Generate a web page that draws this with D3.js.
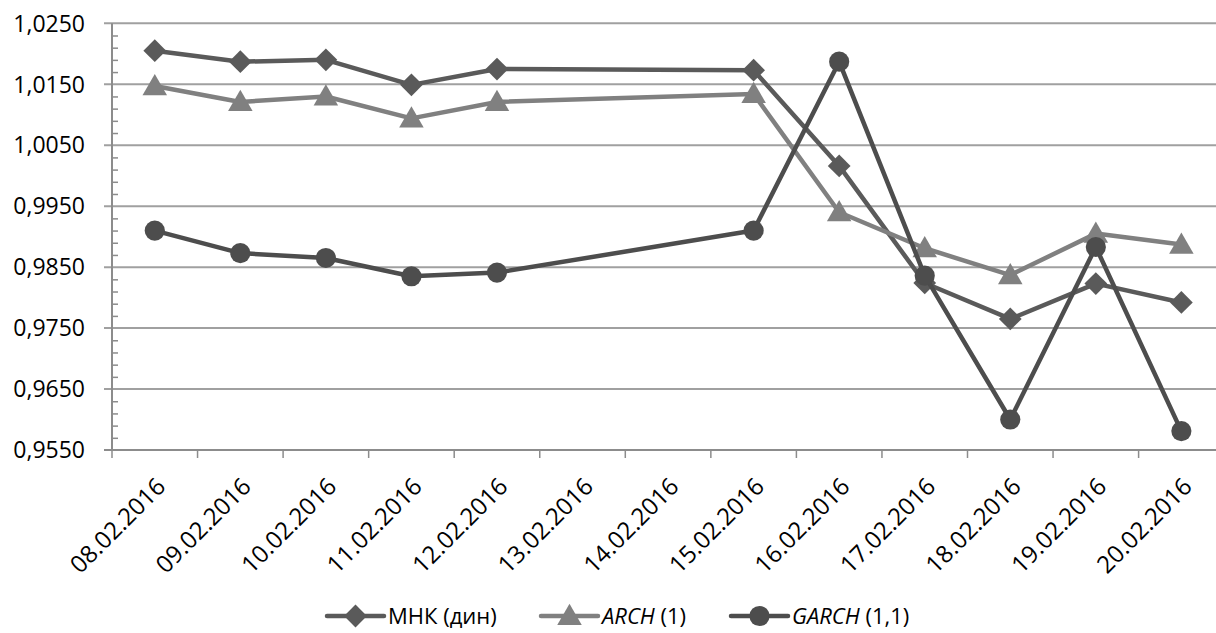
<!DOCTYPE html>
<html>
<head>
<meta charset="utf-8">
<script src="https://cdn.jsdelivr.net/npm/d3@7"></script>
<style>
  body { margin: 0; background: #fff; }
  svg { display: block; font-family: "Open Sans", sans-serif; }
  .ytick { font-size: 23px; fill: #000; }
  .xlab { font-size: 24px; fill: #000; }
  .legend text { font-size: 22px; fill: #000; }
</style>
</head>
<body>
<script>
//categories on the date axis
var dates = ["08.02.2016", "09.02.2016", "10.02.2016", "11.02.2016", "12.02.2016",
  "13.02.2016", "14.02.2016", "15.02.2016", "16.02.2016", "17.02.2016",
  "18.02.2016", "19.02.2016", "20.02.2016"];
//series values (null = no value that day)
var mnk   = [1.0205, 1.0187, 1.0190, 1.0149, 1.0175, null, null, 1.0173, 1.0016, 0.9824, 0.9765, 0.9823, 0.9792];
var arch  = [1.0147, 1.0121, 1.0130, 1.0094, 1.0121, null, null, 1.0134, 0.9940, 0.9881, 0.9837, 0.9905, 0.9887];
var garch = [0.9910, 0.9873, 0.9865, 0.9835, 0.9841, null, null, 0.9910, 1.0187, 0.9836, 0.9600, 0.9883, 0.9581];
//y axis tick labels
var yTicks = [0.9550, 0.9650, 0.9750, 0.9850, 0.9950, 1.0050, 1.0150, 1.0250];

window.onload = function() {
  var w = 1216, h = 633;
  var left = 112, top = 23.3, bottom = 450;
  var step = 85.55;

  var svg = d3.select("body").append("svg")
    .attr("width", w)
    .attr("height", h);

  //scales
  var x = d3.scaleBand()
    .domain(dates)
    .range([left, left + step * dates.length])
    .padding(0);
  var y = d3.scaleLinear()
    .domain([0.955, 1.025])
    .range([bottom, top]);

  var comma = d3.formatLocale({decimal: ",", thousands: " ", grouping: [3], currency: ["", ""]});
  var fmt = comma.format(".4f");

  //horizontal gridlines (they also work as major ticks)
  svg.append("g")
    .selectAll("line")
    .data(yTicks)
    .enter()
    .append("line")
    .attr("x1", left - 8)
    .attr("x2", w)
    .attr("y1", function(d) { return y(d); })
    .attr("y2", function(d) { return y(d); })
    .style("stroke", "#a0a0a0")
    .style("stroke-width", 2);

  //minor ticks inside the plot
  var minor = d3.range(0, 36).map(function(i) { return 0.955 + i * 0.002; })
    .filter(function(d, i) { return i % 5 != 0; });
  svg.append("g")
    .attr("transform", "translate(" + left + ",0)")
    .call(d3.axisRight(y).tickValues(minor).tickSize(6).tickFormat(""))
    .call(function(g) {
      g.select(".domain").remove();
      g.selectAll("line").style("stroke", "#8c8c8c").style("stroke-width", 1.5);
    });

  //y labels
  svg.append("g")
    .selectAll("text")
    .data(yTicks)
    .enter()
    .append("text")
    .attr("class", "ytick")
    .attr("x", 85)
    .attr("y", function(d) { return y(d); })
    .attr("dy", "0.36em")
    .attr("text-anchor", "end")
    .text(function(d) { return fmt(d); });

  //y axis line
  svg.append("line")
    .attr("x1", left).attr("x2", left)
    .attr("y1", y(1.025)).attr("y2", bottom)
    .style("stroke", "#8c8c8c")
    .style("stroke-width", 2);

  //x axis line and ticks at category boundaries
  svg.append("line")
    .attr("x1", left - 8).attr("x2", w)
    .attr("y1", bottom).attr("y2", bottom)
    .style("stroke", "#8c8c8c")
    .style("stroke-width", 2);
  svg.append("g")
    .selectAll("line")
    .data(dates)
    .enter()
    .append("line")
    .attr("x1", function(d) { return x(d); })
    .attr("x2", function(d) { return x(d); })
    .attr("y1", bottom)
    .attr("y2", bottom + 8)
    .style("stroke", "#8c8c8c")
    .style("stroke-width", 1.5);

  //rotated date labels
  svg.append("g")
    .selectAll("text")
    .data(dates)
    .enter()
    .append("text")
    .attr("class", "xlab")
    .attr("text-anchor", "end")
    .attr("dy", "0.36em")
    .attr("transform", function(d) {
      return "translate(" + (x(d) + x.bandwidth() / 2 + 6) + "," + 482 + ") rotate(-45)";
    })
    .text(function(d) { return d; });

  //series definitions
  var series = [
    {name: "МНК (дин)", values: mnk, color: "#5a5a5a", marker: "diamond"},
    {name: "ARCH", suffix: " (1)", values: arch, color: "#808080", marker: "triangle"},
    {name: "GARCH", suffix: " (1,1)", values: garch, color: "#4d4d4d", marker: "circle"}
  ];

  var shapes = {
    diamond: d3.symbol().type(d3.symbolDiamond2).size(330),
    triangle: d3.symbol().type(d3.symbolTriangle).size(260),
    circle: d3.symbol().type(d3.symbolCircle).size(320)
  };

  var line = d3.line()
    .x(function(d) { return x(d.date) + x.bandwidth() / 2; })
    .y(function(d) { return y(d.v); });

  series.forEach(function(s) {
    var pts = dates.map(function(d, i) { return {date: d, v: s.values[i]}; })
      .filter(function(p) { return p.v != null; });
    svg.append("path")
      .datum(pts)
      .attr("d", line)
      .style("fill", "none")
      .style("stroke", s.color)
      .style("stroke-width", 4.5)
      .style("stroke-linejoin", "round");
    svg.append("g")
      .selectAll("path")
      .data(pts)
      .enter()
      .append("path")
      .attr("d", shapes[s.marker])
      .attr("transform", function(p) {
        var dy = s.marker == "triangle" ? 2 : 0;
        return "translate(" + (x(p.date) + x.bandwidth() / 2) + "," + (y(p.v) + dy) + ")";
      })
      .style("fill", s.color);
  });

  //legend
  var legX = [327, 541, 731];
  var legend = svg.append("g").attr("class", "legend");
  series.forEach(function(s, i) {
    var g = legend.append("g").attr("transform", "translate(" + legX[i] + ",616)");
    g.append("line")
      .attr("x1", 0).attr("x2", 57)
      .style("stroke", s.color)
      .style("stroke-width", 4.5)
      .style("stroke-linecap", "round");
    g.append("path")
      .attr("d", shapes[s.marker])
      .attr("transform", "translate(28.5," + (s.marker == "triangle" ? 2 : 0) + ")")
      .style("fill", s.color);
    var t = g.append("text")
      .attr("x", 61)
      .attr("dy", "0.36em");
    if (s.suffix) {
      t.append("tspan").style("font-style", "italic").text(s.name);
      t.append("tspan").text(s.suffix);
    } else {
      t.text(s.name);
    }
  });
};
</script>
</body>
</html>
